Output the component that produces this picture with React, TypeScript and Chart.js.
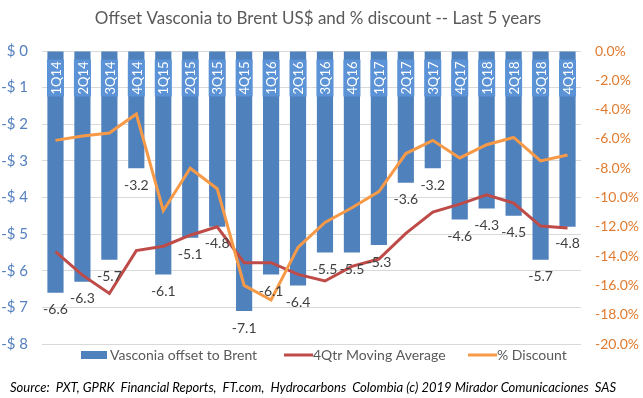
import React, { useEffect, useRef } from "react";
import { Chart, registerables } from "chart.js";

Chart.register(...registerables);

const categories = ["1Q14","2Q14","3Q14","4Q14","1Q15","2Q15","3Q15","4Q15","1Q16","2Q16","3Q16","4Q16","1Q17","2Q17","3Q17","4Q17","1Q18","2Q18","3Q18","4Q18"];
const offsetValues = [-6.6,-6.3,-5.7,-3.2,-6.1,-5.1,-4.8,-7.1,-6.1,-6.4,-5.5,-5.5,-5.3,-3.6,-3.2,-4.6,-4.3,-4.5,-5.7,-4.8];
const movingAverage = [-5.48,-6.12,-6.62,-5.45,-5.33,-5.03,-4.8,-5.78,-5.78,-6.1,-6.28,-5.88,-5.68,-4.98,-4.4,-4.18,-3.93,-4.15,-4.78,-4.83];
const discountPct = [-6.1,-5.8,-5.6,-4.3,-10.9,-8.0,-9.4,-16.0,-17.0,-13.4,-11.7,-10.7,-9.6,-7.0,-6.1,-7.3,-6.4,-5.9,-7.5,-7.1];

const TITLE = "Offset Vasconia to Brent US$ and % discount -- Last 5 years";
const SOURCE = "Source:  PXT, GPRK  Financial Reports,  FT.com,  Hydrocarbons  Colombia (c) 2019 Mirador Comunicaciones  SAS";
const FONT = "Lato, 'Liberation Sans', sans-serif";

const BAR_COLOR = "#4F81BD";
const BOX_COLOR = "#5B93D6";
const RED = "#BE4B48";
const ORANGE = "#F79A48";

const decorPlugin = {
  id: "decor",
  afterDatasetsDraw(chart: any) {
    const ctx = chart.ctx;
    const meta = chart.getDatasetMeta(0);
    ctx.save();
    // value labels
    ctx.font = `14px ${FONT}`;
    ctx.fillStyle = "#404040";
    ctx.textAlign = "center";
    ctx.textBaseline = "middle";
    meta.data.forEach((bar: any, i: number) => {
      ctx.fillText(offsetValues[i].toFixed(1), bar.x, bar.y + 17);
    });
    // category labels inside bars
    ctx.font = `13px ${FONT}`;
    meta.data.forEach((bar: any, i: number) => {
      const txt = categories[i];
      const w = ctx.measureText(txt).width;
      const cy = chart.chartArea.top + 27;
      ctx.fillStyle = BOX_COLOR;
      ctx.fillRect(bar.x - 8.5, cy - w / 2 - 2, 17, w + 4);
      ctx.save();
      ctx.translate(bar.x, cy);
      ctx.rotate(-Math.PI / 2);
      ctx.fillStyle = "#FFFFFF";
      ctx.textAlign = "center";
      ctx.textBaseline = "middle";
      ctx.fillText(txt, 0, 1);
      ctx.restore();
    });
    ctx.restore();
  },
  afterDraw(chart: any) {
    const ctx = chart.ctx;
    ctx.save();
    // title
    ctx.font = `17px ${FONT}`;
    ctx.fillStyle = "#595959";
    ctx.textAlign = "center";
    ctx.textBaseline = "middle";
    ctx.fillText(TITLE, 318, 19);
    // legend
    const ds = chart.data.datasets;
    ctx.font = `14px ${FONT}`;
    ctx.textAlign = "left";
    const ly = 355;
    ctx.fillStyle = ds[0].backgroundColor;
    ctx.fillRect(81, ly - 4, 26, 8);
    ctx.fillStyle = "#595959";
    ctx.fillText(ds[0].label, 110, ly);
    ctx.strokeStyle = ds[1].borderColor;
    ctx.lineWidth = 3;
    ctx.beginPath();
    ctx.moveTo(284, ly);
    ctx.lineTo(313, ly);
    ctx.stroke();
    ctx.fillText(ds[1].label, 313, ly);
    ctx.strokeStyle = ds[2].borderColor;
    ctx.beginPath();
    ctx.moveTo(468, ly);
    ctx.lineTo(497, ly);
    ctx.stroke();
    ctx.fillText(ds[2].label, 497, ly);
    // source
    ctx.font = `italic 13px ${FONT}`;
    ctx.fillStyle = "#000000";
    ctx.fillText(SOURCE, 10, 388);
    ctx.restore();
  },
};

export default function App() {
  const ref = useRef<HTMLCanvasElement>(null);
  useEffect(() => {
    document.body.style.margin = "0";
    const chart = new Chart(ref.current as HTMLCanvasElement, {
      type: "bar",
      data: {
        labels: categories,
        datasets: [
          {
            type: "bar",
            label: "Vasconia offset to Brent",
            data: offsetValues,
            backgroundColor: BAR_COLOR,
            yAxisID: "y",
            order: 3,
            barPercentage: 0.6,
            categoryPercentage: 1,
          },
          {
            type: "line",
            label: "4Qtr Moving Average",
            data: movingAverage,
            borderColor: RED,
            backgroundColor: RED,
            borderWidth: 3,
            pointRadius: 0,
            yAxisID: "y",
            order: 2,
          },
          {
            type: "line",
            label: "% Discount",
            data: discountPct,
            borderColor: ORANGE,
            backgroundColor: ORANGE,
            borderWidth: 3,
            pointRadius: 0,
            yAxisID: "y2",
            order: 1,
          },
        ] as any,
      },
      options: {
        animation: false,
        responsive: true,
        maintainAspectRatio: false,
        layout: { padding: { top: 51, bottom: 54, left: 0, right: 0 } },
        plugins: {
          legend: { display: false },
          title: { display: false },
          tooltip: { enabled: false },
        },
        scales: {
          x: { display: false, offset: true, grid: { display: false } },
          y: {
            position: "left",
            min: -8,
            max: 0,
            afterFit: (s: any) => { s.width = 42; },
            border: { display: false },
            grid: { color: "#D9D9D9", drawTicks: false },
            ticks: {
              stepSize: 1,
              padding: 14,
              color: "#5580BF",
              font: { family: FONT, size: 15 },
              callback: (v: any) => (Number(v) === 0 ? "$ 0" : "-$ " + Math.abs(Number(v))),
            },
          },
          y2: {
            position: "right",
            min: -20,
            max: 0,
            afterFit: (s: any) => { s.width = 62; },
            border: { display: false },
            grid: { display: false, drawTicks: false },
            ticks: {
              stepSize: 2,
              padding: 14,
              color: "#E07B2F",
              font: { family: FONT, size: 14 },
              callback: (v: any) => Number(v).toFixed(1) + "%",
            },
          },
        },
      },
      plugins: [decorPlugin],
    });
    return () => chart.destroy();
  }, []);
  return (
    <div style={{ position: "absolute", left: 0, top: 0, width: 643, height: 398 }}>
      <canvas ref={ref} />
    </div>
  );
}
